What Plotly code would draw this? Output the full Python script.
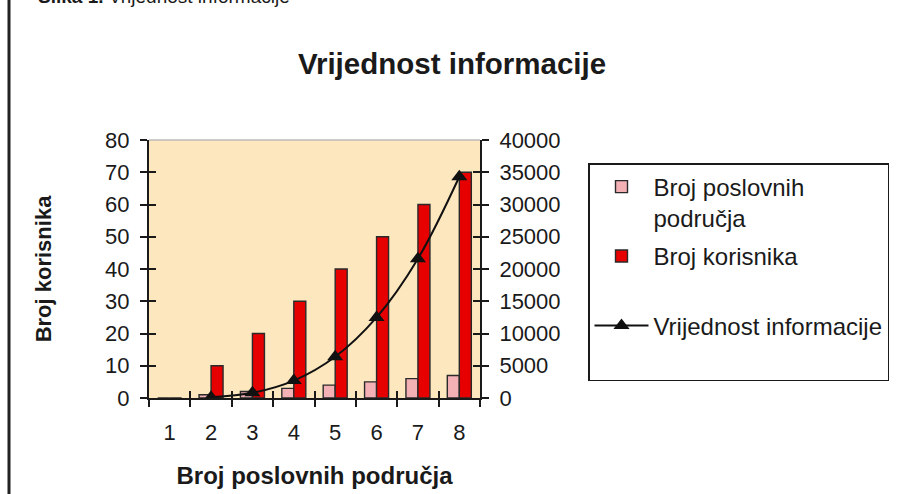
import plotly.graph_objects as go

categories = ["1", "2", "3", "4", "5", "6", "7", "8"]
broj_poslovnih = [0, 1, 2, 3, 4, 5, 6, 7]
broj_korisnika = [0, 10, 20, 30, 40, 50, 60, 70]
vrijednost = [None, 100, 800, 2700, 6400, 12500, 21600, 34300]

FONT = "Liberation Sans, Arial, sans-serif"
AX = "#1a1a1a"

fig = go.Figure()
fig.add_trace(go.Bar(
    x=categories, y=broj_poslovnih, name="Broj poslovnih<br>područja",
    marker=dict(color="#F3B1B6", line=dict(color="#2a2a2a", width=1.4)),
    legendgroup="a"))
fig.add_trace(go.Bar(
    x=categories, y=broj_korisnika, name="Broj korisnika<br>\u00a0",
    marker=dict(color="#E60000", line=dict(color="#2a2a2a", width=1.4)),
    legendgroup="b"))
fig.add_trace(go.Scatter(
    x=categories, y=vrijednost, name="Vrijednost informacije<br>\u00a0", yaxis="y2",
    mode="lines+markers", line=dict(color="#111", width=2, shape="spline"),
    marker=dict(symbol="triangle-up", size=14, color="#111"),
    connectgaps=False, legendgroup="c"))

# helper empty traces so the crossing-tick overlay axes are drawn
fig.add_trace(go.Scatter(x=[], y=[], xaxis="x2", yaxis="y", showlegend=False, hoverinfo="skip"))
fig.add_trace(go.Scatter(x=[], y=[], xaxis="x", yaxis="y3", showlegend=False, hoverinfo="skip"))
fig.add_trace(go.Scatter(x=[], y=[], xaxis="x", yaxis="y4", showlegend=False, hoverinfo="skip"))

n = len(categories)
boundaries = [i - 0.5 for i in range(n + 1)]

tick_common = dict(ticklen=7, tickwidth=2, tickcolor=AX)

fig.update_layout(
    width=908, height=494, autosize=False,
    margin=dict(l=149, r=428, t=140, b=96),
    paper_bgcolor="white", plot_bgcolor="#FDE7BF",
    font=dict(family=FONT, color="#1a1a1a"),
    barmode="group", bargap=0.42, bargroupgap=0,
    title=dict(text="<b>Vrijednost informacije</b>", x=452 / 908, xref="container",
               y=1 - 64 / 494, yref="container", xanchor="center", yanchor="middle",
               font=dict(size=29.5, family=FONT, color="#1a1a1a")),
    xaxis=dict(type="category", categoryorder="array", categoryarray=categories,
               range=[-0.5, n - 0.5], automargin=False,
               showline=True, linecolor=AX, linewidth=2, showgrid=False, zeroline=False,
               ticks="outside", tickson="boundaries", **tick_common,
               tickfont=dict(size=22), ticklabelstandoff=14,
               title=dict(text="<b>Broj poslovnih područja</b>", font=dict(size=24), standoff=23)),
    xaxis2=dict(overlaying="x", anchor="y", side="bottom", range=[-0.5, n - 0.5],
                automargin=False,
                tickmode="array", tickvals=boundaries, ticks="inside", **tick_common,
                showticklabels=False, showline=False, showgrid=False, zeroline=False),
    yaxis=dict(range=[0, 80], dtick=10, showline=True, linecolor=AX, linewidth=2,
               automargin=False,
               showgrid=False, zeroline=False, ticks="outside", **tick_common,
               tickfont=dict(size=22), ticklabelstandoff=6,
               title=dict(text="<b>Broj korisnika</b>", font=dict(size=22), standoff=47)),
    yaxis2=dict(overlaying="y", side="right", anchor="x", range=[0, 40000], dtick=5000,
                tickformat="d", automargin=False,
                showline=True, linecolor=AX, linewidth=2, showgrid=False, zeroline=False,
                ticks="outside", **tick_common, tickfont=dict(size=22), ticklabelstandoff=6),
    yaxis3=dict(overlaying="y", side="left", anchor="x", range=[0, 80], dtick=10,
                automargin=False,
                ticks="inside", **tick_common, showticklabels=False, showline=False,
                showgrid=False, zeroline=False),
    yaxis4=dict(overlaying="y", side="right", anchor="x", range=[0, 40000], dtick=5000,
                automargin=False,
                ticks="inside", **tick_common, showticklabels=False, showline=False,
                showgrid=False, zeroline=False),
    legend=dict(x=(588 - 149) / 331, y=(398 - 163) / 258, xanchor="left", yanchor="top",
                bordercolor="#1a1a1a", borderwidth=1.5, bgcolor="white",
                font=dict(size=24, family=FONT), valign="top", itemwidth=54,
                traceorder="grouped", tracegroupgap=4),
    showlegend=True,
)

# frame decorations: top light line of plot area and left page rule
fig.add_shape(type="line", xref="paper", yref="paper", x0=0, x1=1, y0=1, y1=1,
              line=dict(color="#BBBBBB", width=1.5), layer="above")
fig.add_shape(type="line", xref="paper", yref="paper",
              x0=(9 - 149) / 331, x1=(9 - 149) / 331, y0=1 + 160 / 258, y1=1 - 520 / 258,
              line=dict(color="#222", width=3))

fig.add_annotation(text="<b>Slika 1.</b> Vrijednost informacije", xref="paper", yref="paper",
                   x=(36 - 149) / 331, y=1 + (140 + 3) / 258, xanchor="left", yanchor="middle",
                   showarrow=False,
                   font=dict(size=19, family="Liberation Sans Narrow, Arial Narrow, sans-serif",
                             color="#1a1a1a"))

fig.write_html("out.html", config={"displayModeBar": False},
               post_script="document.body.style.margin='0';")
